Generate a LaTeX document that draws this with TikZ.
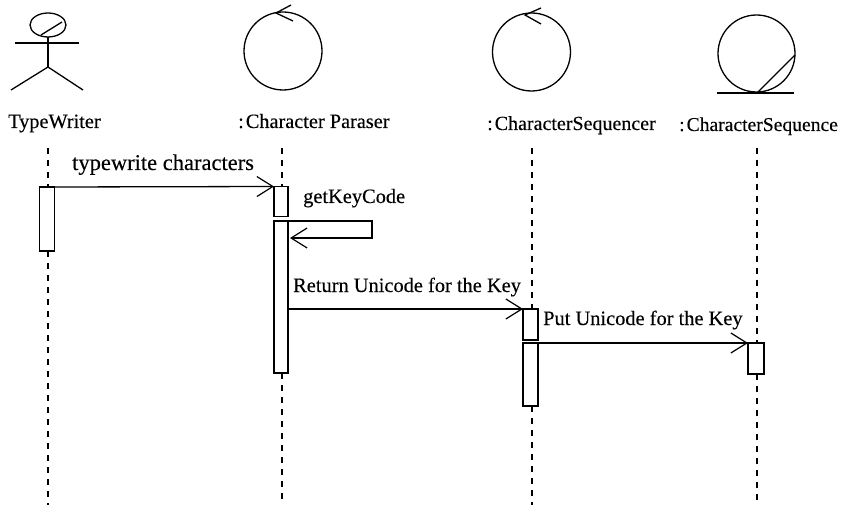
\documentclass[tikz,border=0pt]{standalone}
\usepackage{fontspec}
\setmainfont[FakeBold=0.25]{Liberation Serif}
\usetikzlibrary{arrows.meta,shapes.geometric}
\tikzset{
  ln/.style={line width=1.3pt,black},
  life/.style={line width=1.4pt,dash pattern=on 6pt off 6pt},
  actbox/.style={draw,line width=1.3pt,fill=white,inner sep=0pt,outer sep=0pt},
  msg/.style={ln,-{Straight Barb[length=16pt,width=20pt,line width=1.2pt]}},
  lbl/.style={font=\fontsize{20.3pt}{22pt}\selectfont,inner sep=0pt,anchor=base west},
  msglbl/.style={font=\fontsize{20.4pt}{22pt}\selectfont,inner sep=0pt,anchor=base west},
}
\begin{document}
\begin{tikzpicture}[x=1pt,y=-1pt]
\useasboundingbox (0,0) rectangle (841,505);
% actor
\node[draw,ln,ellipse,minimum width=36pt,minimum height=24pt,inner sep=0pt,outer sep=0pt] (head) at (48,25) {};
\draw[ln] (41,35) -- (62,22);
\coordinate (hip) at (48,67);
\coordinate (armL) at (15,43);
\coordinate (armR) at (79,43);
\draw[ln] (armL) -- (armR);
\draw[ln] (head.south) -- (hip);
\draw[ln] (11,90) -- (hip) -- (83,90);
% control 1
\node[draw,ln,circle,minimum size=78pt,inner sep=0pt,outer sep=0pt] (ctrlA) at (283,51) {};
\draw[ln] (291,5) -- (276,13) -- (293,21);
% control 2
\node[draw,ln,circle,minimum size=78pt,inner sep=0pt,outer sep=0pt] (ctrlB) at (531.5,52) {};
\draw[ln] (541,8) -- (525,15) -- (541,24);
% entity
\node[draw,ln,circle,minimum size=77pt,inner sep=0pt,outer sep=0pt] (ent) at (756.5,53.5) {};
\draw[ln] (717,93) -- (794,93);
\draw[ln] (757,93) -- (795,55);
% names
\node[lbl] (nA) at (8,128) {TypeWriter};
\node[lbl] (nB) at (238,128) {:\kern2pt Character Paraser};
\node[lbl,font=\fontsize{20pt}{22pt}\selectfont] (nC) at (487,130) {:\kern2pt CharacterSequencer};
\node[lbl,font=\fontsize{19.6pt}{22pt}\selectfont] (nD) at (679,131) {:\kern2pt CharacterSequence};
% activations
\node[actbox,minimum width=15pt,minimum height=64pt] (a1) at (47,219) {};
\node[actbox,minimum width=14pt,minimum height=30pt] (b1) at (281,201.5) {};
\node[actbox,minimum width=14pt,minimum height=152pt] (b2) at (281,297) {};
\node[actbox,minimum width=15pt,minimum height=31pt] (c1) at (530.5,324.5) {};
\node[actbox,minimum width=15pt,minimum height=63pt] (c2) at (530.5,374.5) {};
\node[actbox,minimum width=16pt,minimum height=31pt] (d1) at (756,358.5) {};
% lifelines
\coordinate (endA) at (48,505);
\coordinate (endB) at (282,505);
\coordinate (endC) at (532,505);
\coordinate (endD) at (757,505);
\draw[life] (48,148) -- (a1.north -| endA);
\draw[life] (a1.south -| endA) -- (endA);
\draw[life] (282,148) -- (b1.north -| endB);
\draw[life] (b2.south -| endB) -- (endB);
\draw[life] (532,148) -- (c1.north -| endC);
\draw[life] (c2.south -| endC) -- (endC);
\draw[life] (757,148) -- (d1.north -| endD);
\draw[life] (d1.south -| endD) -- (endD);
% messages
\draw[msg] (a1.north east) -- (b1.north west);
\draw[msg] (b2.north east) -- ++(84,0) |- ([yshift=-17pt,xshift=2pt]b2.north east);
\draw[msg] (b2.east |- c1.north west) -- (c1.north west);
\draw[msg] (c2.north east) -- (d1.north west);
% labels
\node[msglbl,font=\fontsize{22.5pt}{24pt}\selectfont] (m1) at (72,170) {typewrite characters};
\node[msglbl] (m2) at (303,203) {getKeyCode};
\node[msglbl] (m3) at (293,292) {Return Unicode for the Key};
\node[msglbl] (m4) at (543,325) {Put Unicode for the Key};
\end{tikzpicture}
\end{document}
